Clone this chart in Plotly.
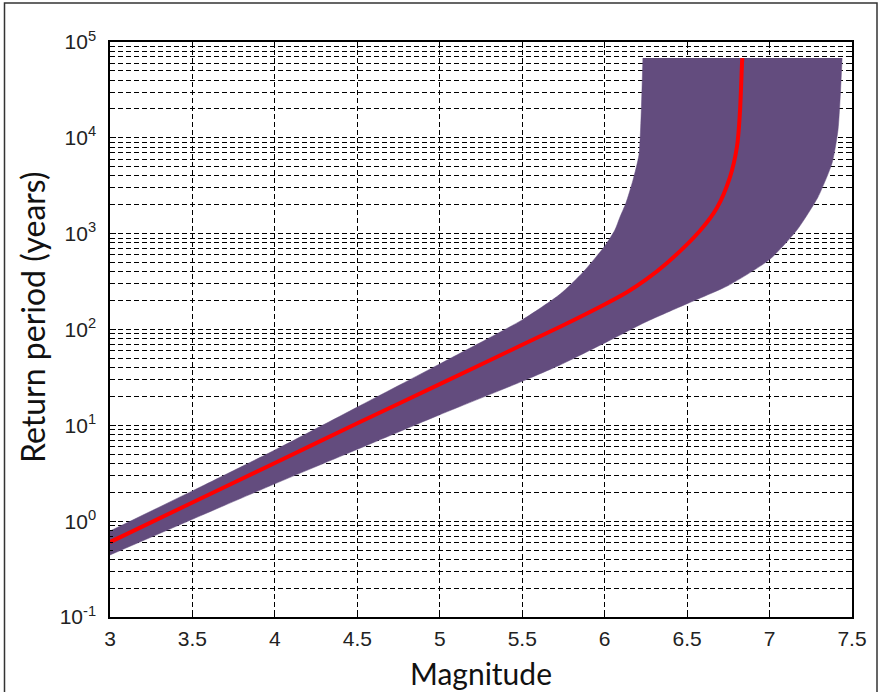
import plotly.graph_objects as go

# ---- data ----
# upper bound of the uncertainty band (left / top edge)
mag_hi = [3.0, 3.5, 4.0, 4.5, 5.0, 5.5, 5.73, 5.87, 6.0, 6.062, 6.093, 6.129, 6.172, 6.208, 6.22, 6.232]
rp_hi = [0.789, 2.07, 5.52, 15.5, 43.7, 126, 234, 398, 741, 1091, 1493, 2089, 3631, 6622, 15350, 68000]

# lower bound of the uncertainty band (right / bottom edge)
mag_lo = [3.0, 3.5, 4.0, 4.5, 5.0, 5.5, 5.73, 6.0, 6.25, 6.5, 6.75, 7.0, 7.166, 7.294, 7.379, 7.415, 7.44]
rp_lo = [0.444, 1.047, 2.455, 5.62, 12.9, 28.8, 42.7, 72.4, 120, 186, 288, 537, 1091, 2415, 5460, 12080, 68000]

# central (median) curve
mag_mid = [3.0, 3.5, 4.0, 4.5, 5.0, 5.5, 5.73, 5.97, 6.135, 6.25, 6.378, 6.578, 6.681, 6.76, 6.802, 6.82, 6.833, 6.835]
rp_mid = [0.605, 1.567, 4.05, 10.5, 26.9, 69.2, 107, 172, 245, 331, 494, 1072, 1862, 3899, 8017, 18160, 60400, 68000]

x_ticks = [3, 3.5, 4, 4.5, 5, 5.5, 6, 6.5, 7, 7.5]
y_ticks = [0.1, 1, 10, 100, 1000, 10000, 100000]
y_ticktext = ["10<sup>-1</sup>", "10<sup>0</sup>", "10<sup>1</sup>", "10<sup>2</sup>",
              "10<sup>3</sup>", "10<sup>4</sup>", "10<sup>5</sup>"]

# minor ticks 2..9 in each decade
y_minor = [m * 10 ** e for e in range(-1, 5) for m in range(2, 10)]

band_color = "#634c7e"
line_color = "#ff0000"
grid_dash = "5px,3px"

fig = go.Figure()

# lower edge of the band (no fill of its own)
fig.add_trace(go.Scatter(
    x=mag_lo, y=rp_lo,
    mode="lines",
    line=dict(width=0.5, color=band_color, shape="spline", smoothing=0.6),
    hoverinfo="skip",
    showlegend=False,
))
# upper edge, filled to the lower edge
fig.add_trace(go.Scatter(
    x=mag_hi, y=rp_hi,
    mode="lines",
    fill="tonexty",
    fillcolor=band_color,
    line=dict(width=0.5, color=band_color, shape="spline", smoothing=0.6),
    hoverinfo="skip",
    showlegend=False,
))

fig.add_trace(go.Scatter(
    x=mag_mid, y=rp_mid,
    mode="lines",
    line=dict(color=line_color, width=4, shape="spline", smoothing=0.9),
    showlegend=False,
))

tick_font = dict(family="Liberation Sans, Arial, sans-serif", size=21, color="#222222")
x_title_font = dict(family="Lato, Calibri, sans-serif", size=30, color="#111111")
y_title_font = dict(family="Lato, Calibri, sans-serif", size=32, color="#111111")

fig.update_xaxes(
    range=[3, 7.5],
    tickvals=x_ticks,
    ticks="inside", ticklen=6, tickcolor="black",
    showline=True, linecolor="black", linewidth=1.5, mirror="allticks",
    showgrid=True, gridcolor="black", gridwidth=1, griddash=grid_dash,
    zeroline=False, automargin=False,
    tickfont=tick_font,
    ticklabelstandoff=2,
    title=dict(text="Magnitude", font=x_title_font, standoff=15),
)

fig.update_yaxes(
    type="log",
    range=[-1, 5],
    tickvals=y_ticks,
    ticktext=y_ticktext,
    ticks="inside", ticklen=6, tickcolor="black",
    showline=True, linecolor="black", linewidth=1.5, mirror="allticks",
    showgrid=True, gridcolor="black", gridwidth=1, griddash=grid_dash,
    zeroline=False, automargin=False,
    tickfont=tick_font,
    ticklabelstandoff=8,
    minor=dict(tickvals=y_minor, ticks="inside", ticklen=3, tickcolor="black",
               showgrid=True, gridcolor="black", gridwidth=1, griddash=grid_dash),
)

# geometry helpers (pixel -> paper)
L, R, T, B = 110, 28, 42, 75
W, H = 880, 692
pw, ph = W - L - R, H - T - B
def px_x(px):
    return (px - L) / pw
def px_y(py):
    return (H - B - py) / ph

# y-axis title placed as in the reference
fig.add_annotation(
    text="Return period (years)", textangle=-90,
    xref="paper", yref="paper", x=px_x(32), y=px_y(317),
    xanchor="center", yanchor="middle", showarrow=False,
    font=y_title_font,
)

# outer frame of the figure
fig.add_shape(type="rect", xref="paper", yref="paper",
              x0=px_x(4.5), x1=px_x(877), y0=px_y(705), y1=px_y(3),
              line=dict(color="#333333", width=1.5), layer="below")

fig.update_layout(
    width=W, height=H,
    margin=dict(l=L, r=R, t=T, b=B),
    paper_bgcolor="white",
    plot_bgcolor="white",
    showlegend=False,
)

fig.write_html("out.html", config={"displayModeBar": False},
               post_script="document.body.style.margin='0px';")
